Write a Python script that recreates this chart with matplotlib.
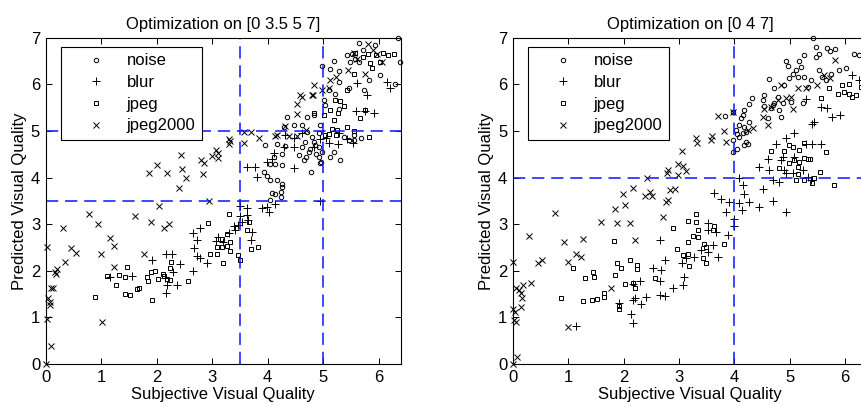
"""Predicted vs subjective visual quality, two threshold optimisations."""

import numpy as np

import matplotlib

matplotlib.use("Agg")
import matplotlib.pyplot as plt  # noqa: E402

plt.rcParams["font.family"] = ["Liberation Sans", "DejaVu Sans"]
plt.rcParams["font.size"] = 12

# ---- left panel: optimisation on [0 3.5 5 7] ----
left_noise = [
    (6.34, 7.0), (5.65, 6.88), (5.94, 6.85), (5.72, 6.73), (5.43, 6.63), (5.52, 6.65),
    (5.57, 6.55), (5.48, 6.48), (5.64, 6.48), (5.2, 6.5), (4.98, 6.39), (5.13, 6.32),
    (5.28, 6.29), (6.03, 6.2), (5.82, 6.1), (6.3, 6.0), (5.28, 6.06), (6.39, 6.48),
    (5.1, 5.88), (5.22, 5.8), (5.46, 5.91), (5.73, 5.88), (5.01, 5.66), (5.04, 5.55),
    (5.28, 5.48), (4.83, 5.34), (4.71, 5.3), (4.34, 5.29), (4.47, 5.13), (4.62, 5.13),
    (4.29, 5.09), (4.71, 4.98), (4.8, 4.87), (4.95, 5.13), (4.92, 4.95), (4.83, 4.77),
    (4.92, 4.66), (4.77, 4.62), (4.68, 4.77), (4.61, 4.66), (4.56, 4.48), (4.65, 4.37),
    (4.79, 4.12), (4.92, 4.45), (4.95, 4.32), (4.98, 4.55), (5.12, 4.45), (5.19, 4.55),
    (5.31, 4.37), (5.55, 4.91), (5.55, 4.8), (5.68, 4.84), (4.32, 4.67), (4.17, 4.73),
    (4.26, 4.5), (4.11, 4.45), (4.14, 4.29), (4.04, 4.3), (4.26, 4.27), (3.96, 4.7),
    (3.93, 4.12), (3.99, 4.03), (4.05, 3.95), (4.16, 3.95), (4.26, 3.87), (4.26, 3.79),
    (4.24, 3.7), (4.08, 3.67), (4.13, 3.64), (4.24, 3.59), (4.05, 3.52), (4.96, 4.34),
    (5.37, 4.87), (5.46, 4.8), (4.74, 4.55), (4.86, 4.7), (4.7, 4.45), (4.88, 4.5),
]
left_blur = [
    (6.21, 5.91), (6.15, 6.05), (5.79, 5.77), (5.61, 6.03), (5.6, 5.43), (5.76, 5.43),
    (5.91, 5.39), (5.54, 4.75), (5.43, 4.82), (5.1, 4.75), (5.26, 4.72), (4.95, 4.82),
    (5.28, 4.95), (4.47, 4.66), (4.47, 4.84), (4.3, 4.66), (4.32, 4.91), (4.83, 4.66),
    (4.95, 3.5), (4.47, 4.2), (4.12, 4.52), (4.07, 4.39), (3.99, 4.34), (3.81, 4.02),
    (3.63, 4.23), (3.78, 4.23), (4.14, 3.44), (3.99, 3.37), (3.9, 3.34), (4.02, 3.27),
    (3.63, 3.34), (3.51, 3.39), (3.63, 3.2), (3.51, 3.17), (3.64, 3.09), (3.54, 3.05),
    (3.39, 2.95), (3.46, 2.98), (3.72, 2.84), (3.7, 2.67), (3.31, 2.8), (3.11, 2.73),
    (3.07, 2.64), (3.2, 2.62), (3.42, 2.88), (2.66, 2.8), (2.72, 2.67), (2.78, 2.92),
    (2.68, 2.48), (2.72, 2.32), (2.78, 2.27), (2.9, 2.17), (2.66, 2.0), (2.42, 2.14),
    (2.36, 1.69), (2.16, 2.37), (2.27, 2.37), (1.91, 2.23), (2.15, 1.84), (2.16, 1.52),
    (2.18, 1.69), (2.3, 1.98), (1.55, 1.89), (1.16, 1.87), (5.05, 4.85), (4.62, 4.95),
]
left_jpeg = [
    (5.58, 6.68), (5.71, 6.59), (5.8, 6.66), (5.95, 6.63), (6.08, 6.68), (6.16, 6.63),
    (6.27, 6.66), (5.84, 6.46), (6.03, 6.48), (5.55, 6.23), (5.88, 6.34), (5.43, 5.88),
    (5.22, 5.66), (5.31, 5.65), (5.38, 5.53), (5.26, 5.38), (5.13, 5.45), (5.01, 5.34),
    (5.67, 5.27), (5.76, 5.45), (5.19, 5.23), (5.16, 5.05), (5.43, 5.09), (5.56, 5.0),
    (5.25, 5.02), (5.1, 4.93), (5.24, 4.91), (5.04, 4.91), (5.82, 4.88), (4.83, 5.38),
    (3.31, 3.22), (2.92, 3.02), (3.66, 3.05), (3.63, 2.87), (3.27, 2.79), (3.18, 2.69),
    (3.33, 2.62), (3.08, 2.5), (3.18, 2.5), (3.27, 2.53), (2.97, 2.37), (3.08, 2.37),
    (3.46, 2.34), (3.51, 2.24), (3.7, 2.46), (3.82, 2.5), (3.19, 2.17), (3.33, 2.43),
    (2.56, 1.78), (2.25, 2.19), (2.24, 2.05), (2.12, 1.94), (2.13, 1.89), (2.18, 1.82),
    (2.24, 1.8), (1.97, 2.0), (1.89, 1.98), (1.82, 1.86), (1.85, 1.77), (2.03, 1.82),
    (1.91, 1.37), (1.46, 2.09), (1.43, 1.87), (1.32, 1.91), (1.26, 1.69), (1.1, 1.89),
    (1.43, 1.5), (1.52, 1.48), (1.64, 1.6), (1.69, 1.64), (0.88, 1.44),
]
left_jp2k = [
    (0.02, 2.5), (0.02, 0.96), (0.1, 0.39), (0.0, 0.0), (0.05, 1.41), (0.07, 1.34),
    (0.08, 1.27), (0.1, 1.64), (0.14, 1.64), (0.17, 1.98), (0.2, 2.03), (0.19, 1.94),
    (0.35, 2.19), (0.31, 2.92), (0.45, 2.48), (0.54, 2.39), (0.78, 3.21), (0.95, 3.0),
    (1.0, 2.37), (1.01, 0.9), (1.15, 2.7), (1.24, 2.54), (1.23, 2.09), (1.61, 3.17),
    (1.77, 2.35), (1.9, 3.05), (1.86, 4.1), (2.01, 4.27), (2.04, 3.38), (2.18, 4.09),
    (2.13, 2.92), (2.22, 3.0), (2.4, 3.78), (2.43, 4.49), (2.46, 4.18), (2.53, 4.0),
    (2.79, 4.37), (2.84, 4.07), (2.85, 4.32), (2.95, 3.5), (3.0, 4.46), (3.07, 4.6),
    (3.11, 4.42), (3.3, 4.82), (3.31, 4.72), (3.33, 4.78), (3.57, 4.98), (3.7, 4.97),
    (3.84, 4.85), (4.16, 4.91), (4.32, 5.1), (4.38, 4.89), (4.52, 5.36), (4.53, 5.58),
    (4.61, 5.73), (4.81, 5.78), (4.83, 5.98), (4.7, 5.02), (5.1, 5.91), (5.12, 6.09),
    (5.24, 6.16), (5.44, 6.3), (5.56, 6.68), (5.8, 6.86), (5.61, 6.55), (5.89, 6.73),
    (5.76, 6.22), (5.97, 6.66), (6.06, 6.48), (4.59, 5.77), (4.8, 5.77), (4.98, 5.88),
    (4.53, 4.89), (4.14, 4.89), (3.58, 4.74), (3.1, 4.53),
]

# ---- right panel: optimisation on [0 4 7] ----
right_noise = [
    (5.42, 7.0), (5.48, 6.8), (5.53, 6.66), (5.68, 6.77), (5.72, 6.72), (5.81, 6.75),
    (6.16, 6.64), (6.25, 6.63), (5.47, 6.59), (5.25, 6.63), (5.17, 6.5), (4.93, 6.5),
    (4.96, 6.39), (5.2, 6.38), (5.11, 6.3), (5.05, 6.22), (5.14, 6.15), (5.26, 6.15),
    (5.38, 6.09), (5.59, 6.15), (5.74, 6.22), (5.89, 6.3), (6.01, 6.34), (5.53, 6.3),
    (4.98, 6.13), (4.9, 5.98), (4.72, 5.91), (4.63, 6.11), (4.78, 5.73), (4.54, 5.77),
    (4.51, 5.66), (4.54, 5.53), (4.72, 5.59), (4.81, 5.45), (4.84, 5.3), (4.6, 5.27),
    (5.02, 5.63), (5.23, 5.59), (4.32, 5.71), (4.27, 5.57), (4.18, 5.45), (4.15, 5.34),
    (4.12, 5.27), (4.18, 5.09), (4.09, 5.13), (4.03, 5.02), (3.97, 4.8), (4.05, 4.93),
    (4.21, 4.98), (4.21, 4.77), (4.24, 4.73), (4.09, 4.87), (4.27, 5.2), (4.15, 4.95),
    (4.05, 4.62), (3.97, 4.55), (4.18, 4.7), (3.83, 5.32), (3.97, 5.41), (4.66, 5.5),
    (4.7, 5.55), (4.87, 5.6), (5.32, 5.95), (5.65, 6.1),
]
right_blur = [
    (6.13, 6.2), (6.25, 6.09), (5.29, 5.68), (5.56, 5.52), (5.68, 5.5), (5.77, 5.29),
    (5.91, 5.34), (5.43, 5.2), (5.41, 5.15), (5.08, 4.96), (4.93, 4.84), (4.75, 4.73),
    (4.6, 4.39), (4.84, 4.37), (4.87, 4.45), (5.08, 4.45), (5.29, 4.73), (5.41, 4.73),
    (5.56, 4.73), (4.45, 4.22), (4.63, 4.16), (4.81, 3.91), (4.69, 3.95), (4.9, 4.16),
    (4.93, 4.09), (5.23, 4.16), (5.32, 4.02), (5.06, 4.1), (5.38, 3.95), (4.93, 3.25),
    (4.69, 3.5), (4.51, 3.75), (4.45, 3.36), (4.18, 3.65), (4.15, 3.85), (4.09, 3.98),
    (4.09, 3.46), (4.27, 3.48), (4.14, 3.3), (3.64, 3.66), (3.76, 3.53), (3.91, 3.48),
    (3.85, 3.25), (4.0, 3.12), (4.0, 2.95), (3.88, 2.77), (3.52, 3.03), (3.52, 2.87),
    (3.67, 2.84), (3.7, 2.3), (3.61, 2.55), (3.52, 2.41), (3.39, 2.44), (3.28, 2.3),
    (3.13, 2.27), (3.05, 2.16), (3.1, 1.87), (3.07, 1.69), (2.9, 1.62), (2.65, 2.67),
    (2.75, 2.23), (2.53, 2.05), (2.68, 2.02), (2.65, 1.78), (2.65, 1.48), (2.74, 1.46),
    (2.41, 1.44), (2.32, 1.29), (2.17, 1.37), (2.21, 1.41), (2.29, 1.77), (2.17, 1.72),
    (2.13, 1.07), (2.17, 0.87), (1.92, 1.3), (1.15, 0.81),
]
right_jpeg = [
    (5.71, 5.91), (5.87, 5.79), (5.98, 5.84), (6.07, 5.8), (6.13, 5.72), (6.19, 5.77),
    (6.28, 5.95), (6.07, 6.0), (5.95, 5.98), (5.56, 5.71), (4.66, 4.57), (4.99, 4.7),
    (5.05, 4.65), (4.9, 4.57), (5.17, 4.59), (5.25, 4.75), (5.65, 4.55), (4.98, 4.32),
    (5.08, 4.37), (5.14, 4.23), (5.17, 4.34), (5.26, 4.41), (5.32, 4.39), (5.37, 4.39),
    (4.81, 4.2), (5.14, 4.07), (5.11, 3.95), (5.26, 3.95), (5.41, 3.89), (5.55, 4.12),
    (5.8, 3.85), (5.44, 3.98), (3.31, 3.22), (3.16, 3.07), (3.31, 3.05), (3.34, 2.87),
    (3.25, 2.74), (3.34, 2.72), (3.16, 2.61), (3.07, 2.34), (3.16, 2.36), (2.96, 2.46),
    (2.9, 2.92), (3.46, 2.57), (3.49, 2.5), (3.61, 2.87), (3.64, 2.95), (3.81, 2.57),
    (3.44, 2.27), (3.49, 2.16), (3.19, 2.11), (1.82, 2.64), (1.88, 2.17), (1.95, 2.05),
    (1.85, 1.91), (2.03, 1.72), (2.12, 2.23), (2.25, 2.12), (2.25, 2.03), (2.17, 1.73),
    (2.2, 1.62), (2.56, 1.85), (1.91, 1.19), (1.91, 1.24), (1.65, 1.44), (1.65, 1.52),
    (1.52, 1.39), (1.43, 1.37), (1.26, 1.36), (1.46, 1.87), (1.31, 1.84), (1.44, 1.98),
    (1.09, 2.05), (0.88, 1.41),
]
right_jp2k = [
    (5.82, 6.52), (5.72, 6.13), (5.62, 6.2), (5.5, 5.98), (5.29, 5.93), (5.14, 5.91),
    (5.02, 5.73), (4.93, 5.7), (5.05, 5.48), (4.84, 5.98), (4.78, 5.66), (4.66, 5.52),
    (4.54, 5.48), (4.51, 5.3), (4.6, 5.13), (4.33, 5.07), (4.24, 5.02), (3.97, 5.41),
    (3.7, 5.32), (3.82, 5.0), (3.85, 4.77), (3.58, 4.8), (3.6, 4.89), (3.31, 4.84),
    (3.32, 4.75), (3.05, 4.57), (2.98, 4.3), (3.07, 4.25), (3.13, 4.15), (2.99, 4.05),
    (2.78, 4.09), (2.81, 4.16), (2.42, 4.0), (2.47, 3.7), (2.38, 3.6), (2.51, 3.6),
    (2.93, 3.75), (2.84, 3.73), (2.81, 3.52), (2.77, 3.48), (2.71, 3.16), (2.17, 3.77),
    (1.99, 3.65), (2.03, 3.41), (1.85, 3.32), (1.88, 3.03), (1.59, 3.05), (2.12, 3.02),
    (2.21, 2.66), (1.26, 2.69), (0.93, 2.62), (0.76, 3.24), (0.3, 2.75), (1.14, 2.36),
    (1.23, 2.29), (0.99, 2.19), (0.45, 2.17), (0.53, 2.22), (0.33, 1.73), (0.18, 1.69),
    (0.12, 1.59), (0.06, 1.62), (0.15, 1.52), (0.16, 1.41), (0.15, 1.23), (0.04, 1.12),
    (0.0, 1.19), (0.0, 2.19), (0.03, 0.94), (0.06, 0.91), (0.08, 0.16), (0.0, 0.0),
    (0.99, 0.8), (1.77, 1.64),
]

panels = [
    ("Optimization on [0 3.5 5 7]", [3.5, 5.0], [3.5, 5.0],
     [left_noise, left_blur, left_jpeg, left_jp2k]),
    ("Optimization on [0 4 7]", [4.0], [4.0],
     [right_noise, right_blur, right_jpeg, right_jp2k]),
]
labels = ["noise", "blur", "jpeg", "jpeg2000"]
markers = [("o", 3.2), ("+", 5.5), ("s", 2.6), ("x", 4.0)]

fig = plt.figure(figsize=(8.62, 4.07), dpi=100)
rects = [[0.053, 0.1057, 0.412, 0.8017], [0.5948, 0.1057, 0.4114, 0.8017]]

for rect, (title, vlines, hlines, series) in zip(rects, panels):
    ax = fig.add_axes(rect)
    for pts, label, (mk, ms) in zip(series, labels, markers):
        arr = np.array(pts)
        ax.plot(arr[:, 0], arr[:, 1], linestyle="none", marker=mk, ms=ms,
                mfc="none", mec="black", mew=0.7, label=label, clip_on=False)
    for v in vlines:
        ax.axvline(v, color="#0a14ff", lw=1.1, dashes=(8, 4.5))
    for h in hlines:
        ax.axhline(h, color="#0a14ff", lw=1.1, dashes=(8, 4.5))
    ax.set_xlim(0, 6.4)
    ax.set_ylim(0, 7)
    ax.set_xticks(range(0, 7))
    ax.set_yticks(range(0, 8))
    ax.tick_params(direction="in", top=True, right=True, length=4, width=0.7,
                   pad=4, labelsize=12)
    for sp in ax.spines.values():
        sp.set_linewidth(0.8)
    ax.set_title(title, fontsize=12, pad=6)
    ax.set_xlabel("Subjective Visual Quality", fontsize=12, labelpad=2)
    ax.set_ylabel("Predicted Visual Quality", fontsize=12, labelpad=3)
    leg = ax.legend(loc="upper left", bbox_to_anchor=(0.042, 0.972),
                    borderaxespad=0, fancybox=False, framealpha=1,
                    edgecolor="black", handlelength=3.4, handletextpad=0.15,
                    borderpad=0.4, labelspacing=0.4, fontsize=12)
    leg.get_frame().set_linewidth(0.8)

fig.savefig("out.png", dpi=100)
